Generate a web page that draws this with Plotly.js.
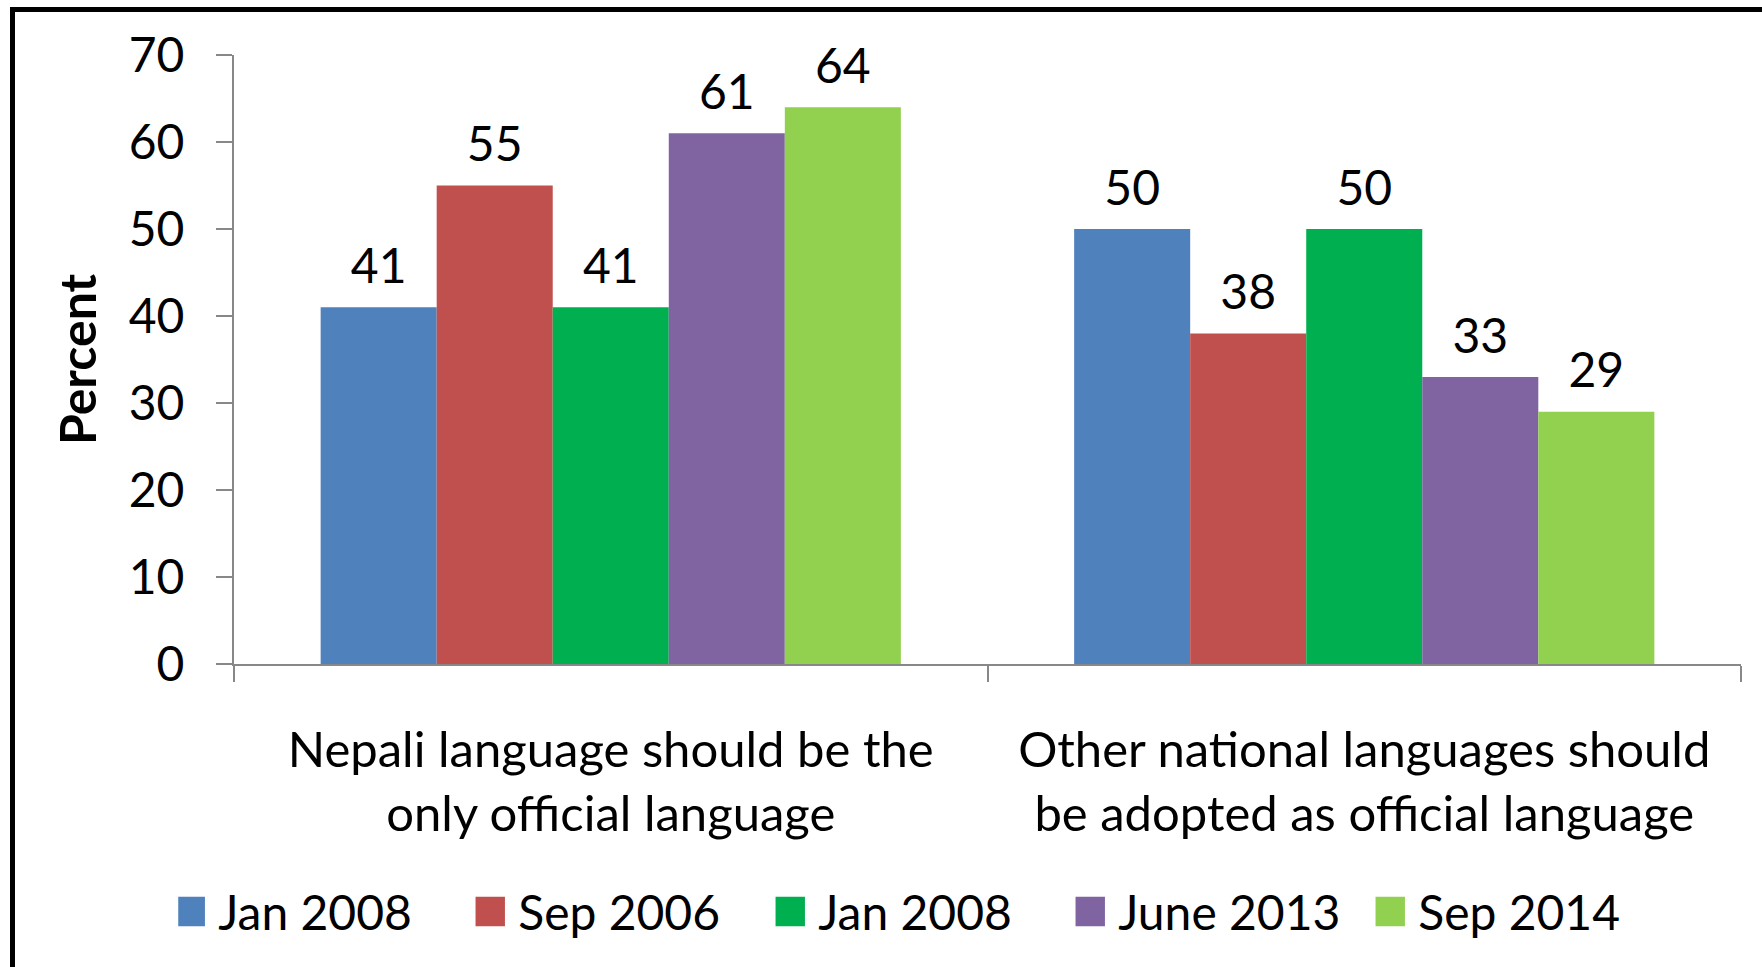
<!DOCTYPE html>
<html>
<head>
<meta charset="utf-8">
<script src="https://cdn.plot.ly/plotly-3.0.1.min.js"></script>
<style>
  html, body { margin: 0; padding: 0; background: #ffffff; }
  #chart { width: 1762px; height: 967px; position: relative; }
  #frame { position: absolute; left: 10px; top: 7px; width: 1800px; height: 1000px;
           border: 5px solid #000; box-sizing: border-box; pointer-events: none; }
</style>
</head>
<body>
<div id="chart"></div>
<div id="frame"></div>
<script>
const categories = [
  "Nepali language should be the<br>only official language",
  "Other national languages should<br>be adopted as official language"
];
const seriesNames = ["Jan 2008", "Sep 2006", "Jan 2008", "June 2013", "Sep 2014"];
const seriesColors = ["#4F81BD", "#C0504D", "#00B050", "#8064A2", "#92D050"];
const jan2008a = [41, 50];
const sep2006 = [55, 38];
const jan2008b = [41, 50];
const june2013 = [61, 33];
const sep2014 = [64, 29];
const seriesValues = [jan2008a, sep2006, jan2008b, june2013, sep2014];
const yTicks = [0, 10, 20, 30, 40, 50, 60, 70];

const FONT = "Lato, 'Open Sans', sans-serif";
const FS = 48;

const barTraces = seriesValues.map((vals, i) => ({
  type: "bar",
  name: seriesNames[i],
  x: categories,
  y: vals,
  marker: { color: seriesColors[i], line: { width: 0 } },
  hoverinfo: "skip",
  showlegend: true
}));

// value labels, grouped like the bars, lifted with an invisible marker
const labelTraces = seriesValues.map((vals, i) => ({
  type: "scatter",
  mode: "markers+text",
  orientation: "v",
  name: seriesNames[i] + " label",
  x: categories,
  y: vals,
  text: vals.map(String),
  textposition: "top center",
  textfont: { family: FONT, size: FS, color: "#000" },
  marker: { size: 18, opacity: 0, color: seriesColors[i] },
  cliponaxis: false,
  hoverinfo: "skip",
  showlegend: false
}));

const layout = {
  width: 1762, height: 967,
  margin: { l: 234, r: 21, t: 55, b: 303 },
  paper_bgcolor: "#ffffff", plot_bgcolor: "#ffffff",
  barmode: "group", bargap: 0.23, bargroupgap: 0,
  scattermode: "group", scattergap: 0.23,
  font: { family: FONT, color: "#000", size: FS },
  showlegend: true,
  legend: {
    orientation: "h", x: -0.037, xanchor: "left", y: -0.407, yanchor: "middle",
    font: { family: FONT, size: FS, color: "#000" },
    traceorder: "normal", entrywidth: 255, entrywidthmode: "pixels"
  },
  xaxis: {
    type: "category",
    showline: true, linecolor: "#888888", linewidth: 2,
    ticks: "outside", tickson: "boundaries", ticklen: 16, tickcolor: "#888888", tickwidth: 2,
    tickfont: { family: FONT, size: 49, color: "#000" },
    showgrid: false, zeroline: false, ticklabelstandoff: 42
  },
  yaxis: {
    range: [0, 70], tickvals: yTicks, ticktext: yTicks.map(String),
    showline: true, linecolor: "#888888", linewidth: 2,
    ticks: "outside", ticklen: 16, tickcolor: "#888888", tickwidth: 2,
    tickfont: { family: FONT, size: FS, color: "#000" },
    showgrid: false, zeroline: false, ticklabelstandoff: 22,
    title: { text: "<b>Percent</b>", font: { family: FONT, size: 50, color: "#000" }, standoff: 16 }
  }
};

Plotly.newPlot("chart", barTraces.concat(labelTraces), layout, { displayModeBar: false, staticPlot: true })
  .then(gd => {
    // enlarge legend swatches to the reference's big squares
    gd.querySelectorAll(".legend .legendpoints path").forEach(p => {
      p.setAttribute("transform", "translate(12,0) scale(2.45)");
    });
  });
</script>
</body>
</html>
